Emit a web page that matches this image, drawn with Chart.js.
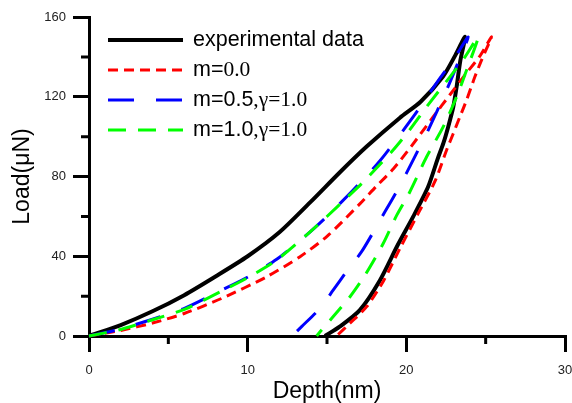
<!DOCTYPE html>
<html>
<head>
<meta charset="utf-8">
<script src="https://cdn.jsdelivr.net/npm/chart.js@4/dist/chart.umd.min.js"></script>
<style>
  html, body { margin: 0; padding: 0; background: #fff; }
  #wrap { width: 572px; height: 403px; }
</style>
</head>
<body>
<div id="wrap"><canvas id="loadChart" width="572" height="403"></canvas></div>
<script>
// === DATA (loading branch then unloading branch, depth in nm, load in uN) ===
const expDepth = [0, 2, 4, 6, 8, 10, 12, 14, 15.8, 17.5, 19.6, 20.9, 22.3, 23.1, 23.7,
                  23.4, 23.17, 22.96, 22.64, 22.33, 21.98, 21.38, 20.44, 19.45, 18.34, 17.07, 15.8, 14.87];
const expLoad  = [0, 5.5, 12.4, 20.5, 30, 40, 52, 67.5, 82, 95, 109.5, 117.5, 130, 141, 150,
                  138, 125, 115, 105, 96.6, 89, 75, 60, 45.5, 28, 13, 4.7, 0];

const m0Depth = [0, 2, 4, 6, 8.4, 11.2, 13.3, 15, 17.1, 18.1, 19.2, 20.3, 21.7, 22.75, 23.7, 24.6, 25.37,
                 24.74, 24.32, 23.8, 23.38, 22.96, 22.54, 21.8, 20.75, 19.6, 18.55, 17.5, 16.45, 15.6];
const m0Load  = [0, 2.8, 6.5, 11.3, 19, 29.7, 39.8, 50, 66.5, 75, 84, 95, 110, 121, 131, 140, 150,
                 138.4, 130, 118.4, 110, 101.6, 93.3, 77.5, 61.5, 44, 27.5, 14.7, 6.4, 0];

const m05Depth = [0, 1.85, 3.95, 6.05, 8.36, 10.1, 11.83, 13.72, 14.98, 16.5, 17.8, 18.65, 20.44, 22, 23, 23.9,
                  23.2, 22.54, 21.38, 20.96, 20, 19.5, 18.65, 18, 17.18, 16.2, 15.4, 14.56, 13.4, 12.8];
const m05Load  = [0, 3.2, 8.3, 14, 23, 30, 38.5, 50.7, 59.8, 72, 83, 91, 110, 128, 139, 150,
                  136, 123.4, 103.3, 96.6, 81.6, 74, 62.3, 53.2, 42.3, 32, 23.1, 13.9, 4.7, 0];

const m10Depth = [0, 1.85, 3.95, 6.05, 8.36, 10.1, 11.83, 13.72, 14.98, 16.2, 17.3, 19.17, 20.2, 21.28, 22.75, 23.7, 24.53,
                  23.8, 23.17, 22.33, 21.28, 20.2, 19.39, 18.55, 17.4, 16.45, 15.3, 14.66, 14.35];
const m10Load  = [0, 3, 8, 13.5, 22.5, 29.7, 38.1, 50.7, 59.8, 69, 77.4, 93.3, 103.3, 115, 130, 140, 150,
                  133.4, 120, 105, 89.9, 72, 60.5, 46.5, 30.6, 19.7, 8.9, 3, 0];

const seriesNames  = ['experimental data', 'm=0.0', 'm=0.5,γ=1.0', 'm=1.0,γ=1.0'];
// legend text pieces: even index = sans, odd index = serif
const legendParts  = [['experimental data'], ['m=', '0.0'], ['m=0.5', ',γ=1.0'], ['m=1.0', ',γ=1.0']];
const seriesColors = ['#000000', '#ff0000', '#0000ff', '#00ff00'];
const seriesDash   = [[], [10, 6], [26, 22], [18, 12]];
const seriesWidth  = [4, 3, 3, 3];

const xTicks = [0, 10, 20, 30];
const yTicks = [0, 40, 80, 120, 160];

const SANS = '"Liberation Sans", Arial, sans-serif';
const SERIF = '"Liberation Serif", "Times New Roman", serif';

function toPoints(xs, ys) {
    return xs.map((x, i) => ({ x: x, y: ys[i] }));
}

const seriesData = [
    toPoints(expDepth, expLoad),
    toPoints(m0Depth, m0Load),
    toPoints(m05Depth, m05Load),
    toPoints(m10Depth, m10Load)
];

// === LEGEND INSIDE PLOT ===
const insideLegend = {
    id: 'insideLegend',
    afterDraw(chart) {
        const ctx = chart.ctx;
        const area = chart.chartArea;
        ctx.save();
        chart.data.datasets.forEach((ds, i) => {
            const y = area.top + 23 + i * 30;
            const x0 = area.left + 19;
            ctx.strokeStyle = ds.borderColor;
            ctx.lineWidth = ds.borderWidth;
            ctx.setLineDash(ds.borderDash);
            ctx.beginPath();
            ctx.moveTo(x0, y);
            ctx.lineTo(x0 + 75, y);
            ctx.stroke();
            ctx.setLineDash([]);
            let tx = x0 + 85;
            ctx.fillStyle = '#000';
            ctx.textBaseline = 'middle';
            legendParts[i].forEach((part, k) => {
                ctx.font = '21.5px ' + (k % 2 === 0 ? SANS : SERIF);
                ctx.fillText(part, tx, y);
                tx += ctx.measureText(part).width;
            });
        });
        ctx.restore();
    }
};

// === MINOR TICKS ===
const minorTicks = {
    id: 'minorTicks',
    afterDraw(chart) {
        const ctx = chart.ctx;
        const xs = chart.scales.x;
        const ys = chart.scales.y;
        ctx.save();
        ctx.strokeStyle = '#000';
        ctx.lineWidth = 3;
        ctx.beginPath();
        for (let i = 0; i < xTicks.length - 1; i++) {
            const px = xs.getPixelForValue((xTicks[i] + xTicks[i + 1]) / 2);
            ctx.moveTo(px, ys.bottom);
            ctx.lineTo(px, ys.bottom + 8);
        }
        for (let i = 0; i < yTicks.length - 1; i++) {
            const py = ys.getPixelForValue((yTicks[i] + yTicks[i + 1]) / 2);
            ctx.moveTo(xs.left, py);
            ctx.lineTo(xs.left - 8, py);
        }
        ctx.stroke();
        ctx.restore();
    }
};

// === CHART ===
const ctx = document.getElementById('loadChart').getContext('2d');
new Chart(ctx, {
    type: 'scatter',
    data: {
        datasets: seriesNames.map((name, i) => ({
            label: name,
            data: seriesData[i],
            showLine: true,
            borderColor: seriesColors[i],
            backgroundColor: seriesColors[i],
            borderWidth: seriesWidth[i],
            borderDash: seriesDash[i],
            pointRadius: 0,
            tension: 0.25,
            fill: false,
            clip: false,
            order: seriesNames.length - 1 - i
        }))
    },
    options: {
        responsive: false,
        animation: false,
        layout: { padding: { top: 17, right: 7, left: 0, bottom: 0 } },
        plugins: {
            legend: { display: false },
            tooltip: { enabled: false }
        },
        scales: {
            x: {
                type: 'linear',
                min: xTicks[0],
                max: xTicks[xTicks.length - 1],
                afterBuildTicks: s => { s.ticks = xTicks.map(v => ({ value: v })); },
                afterFit: s => { s.height = 67; s.paddingLeft = 0; s.paddingRight = 0; },
                ticks: { color: '#222', font: { size: 13, family: SANS }, padding: 11, maxRotation: 0 },
                grid: { drawOnChartArea: false, drawTicks: true, tickLength: 16, lineWidth: 3, color: '#000' },
                border: { width: 3, color: '#000' },
                title: { display: true, text: 'Depth(nm)', color: '#000', font: { size: 23, family: SANS, lineHeight: 1 }, padding: { top: 0, bottom: 0 } }
            },
            y: {
                type: 'linear',
                min: yTicks[0],
                max: yTicks[yTicks.length - 1],
                afterBuildTicks: s => { s.ticks = yTicks.map(v => ({ value: v })); },
                afterFit: s => { s.width = 89; s.paddingTop = 0; s.paddingBottom = 0; },
                ticks: { color: '#222', font: { size: 13, family: SANS }, padding: 7 },
                grid: { drawOnChartArea: false, drawTicks: true, tickLength: 16, lineWidth: 3, color: '#000' },
                border: { width: 3, color: '#000' },
                title: { display: true, text: 'Load(μN)', color: '#000', font: { size: 23, family: SANS }, padding: { top: 9, bottom: 0 } }
            }
        }
    },
    plugins: [insideLegend, minorTicks]
});
</script>
</body>
</html>
